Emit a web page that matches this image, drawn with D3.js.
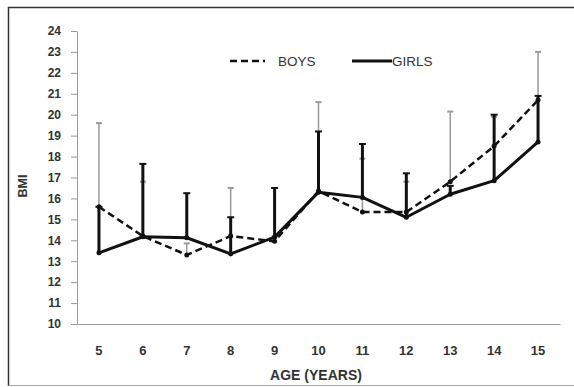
<!DOCTYPE html>
<html>
<head>
<meta charset="utf-8">
<script src="https://cdn.jsdelivr.net/npm/d3@7"></script>
<style>
  body { margin: 0; background: #fff; }
  svg { display: block; font-family: "Liberation Sans", Arial, sans-serif; }
  .tick text { fill: #333; font-weight: bold; }
</style>
</head>
<body>
<svg id="chart" width="574" height="387"></svg>
<script>
const ages = [5, 6, 7, 8, 9, 10, 11, 12, 13, 14, 15]
const boysMean = [15.6, 14.2, 13.3, 14.2, 13.95, 16.35, 15.35, 15.35, 16.8, 18.5, 20.7]
const boysUpper = [19.6, 16.8, 13.85, 16.5, 14.2, 20.6, 17.9, 16.8, 20.15, 19.9, 23.0]
const girlsMean = [13.4, 14.17, 14.12, 13.35, 14.15, 16.3, 16.05, 15.1, 16.2, 16.85, 18.7]
const girlsUpper = [15.6, 17.65, 16.25, 15.1, 16.5, 19.2, 18.6, 17.2, 16.6, 20.0, 20.9]
const yTicks = d3.range(10, 25)

const MARGIN = { top: 31, right: 14, bottom: 63, left: 77 }
const width = 574, height = 387

const svg = d3.select('#chart')

// outer frame (top + left dark, bottom light, no right edge)
svg.append('path')
    .attr('d', `M${width},7.5 H8.5 V386`)
    .attr('fill', 'none')
    .attr('stroke', '#333')
    .attr('stroke-width', 1.5)
svg.append('line')
    .attr('x1', 8.5).attr('x2', width).attr('y1', 385.5).attr('y2', 385.5)
    .attr('stroke', '#aaa')
    .attr('stroke-width', 1)

const xScale = d3.scaleBand()
    .domain(ages)
    .range([MARGIN.left, width - MARGIN.right])
const yScale = d3.scaleLinear()
    .domain([10, 24])
    .range([height - MARGIN.bottom, MARGIN.top])

const cx = d => xScale(d) + xScale.bandwidth() / 2

// y axis
const yAxis = svg.append('g')
    .attr('transform', `translate(${MARGIN.left},0)`)
    .call(d3.axisLeft(yScale).tickValues(yTicks).tickSize(6).tickPadding(10).tickSizeOuter(0))
yAxis.selectAll('line, path').attr('stroke', '#999')
yAxis.selectAll('text').attr('font-size', 12)

// x axis
const xAxis = svg.append('g')
    .attr('transform', `translate(0,${yScale(10)})`)
    .call(d3.axisBottom(xScale).tickSize(0).tickPadding(22).tickSizeOuter(0))
xAxis.select('.domain').attr('stroke', '#999')
xAxis.selectAll('text').attr('font-size', 13)

// axis titles
svg.append('text')
    .attr('x', 316).attr('y', 380)
    .attr('text-anchor', 'middle')
    .attr('font-size', 14)
    .attr('font-weight', 'bold')
    .attr('fill', '#333')
    .text('AGE (YEARS)')

svg.append('text')
    .attr('transform', 'translate(27,186) rotate(-90)')
    .attr('text-anchor', 'middle')
    .attr('font-size', 12.5)
    .attr('font-weight', 'bold')
    .attr('fill', '#333')
    .text('BMI')

// error bars: boys (grey, thin) then girls (black, thick)
function errorBars(mean, upper, color, sw, capW) {
    const g = svg.append('g')
    ages.forEach((a, i) => {
        g.append('line')
            .attr('x1', cx(a)).attr('x2', cx(a))
            .attr('y1', yScale(mean[i])).attr('y2', yScale(upper[i]))
            .attr('stroke', color).attr('stroke-width', sw)
        g.append('line')
            .attr('x1', cx(a) - capW / 2).attr('x2', cx(a) + capW / 2)
            .attr('y1', yScale(upper[i])).attr('y2', yScale(upper[i]))
            .attr('stroke', color).attr('stroke-width', 2)
    })
}
errorBars(boysMean, boysUpper, '#9a9a9a', 1.5, 6)
errorBars(girlsMean, girlsUpper, '#111', 3, 7)

const lineGen = d3.line()
    .x((d, i) => cx(ages[i]))
    .y(d => yScale(d))

svg.append('path')
    .datum(girlsMean)
    .attr('d', lineGen)
    .attr('fill', 'none')
    .attr('stroke', '#111')
    .attr('stroke-width', 3)
    .attr('stroke-linejoin', 'round')

svg.append('path')
    .datum(boysMean)
    .attr('d', lineGen)
    .attr('fill', 'none')
    .attr('stroke', '#111')
    .attr('stroke-width', 2.5)
    .attr('stroke-dasharray', '7,4')

svg.append('g').selectAll('circle')
    .data(boysMean.concat(girlsMean))
    .join('circle')
    .attr('cx', (d, i) => cx(ages[i % ages.length]))
    .attr('cy', d => yScale(d))
    .attr('r', 2.5)
    .attr('fill', '#111')

// legend
const legend = svg.append('g').attr('class', 'legend')
legend.append('line')
    .attr('x1', 230).attr('x2', 265).attr('y1', 61).attr('y2', 61)
    .attr('stroke', '#111').attr('stroke-width', 2.5).attr('stroke-dasharray', '7,4')
legend.append('text')
    .attr('x', 278).attr('y', 66)
    .attr('font-size', 13.5).attr('fill', '#333')
    .text('BOYS')
legend.append('line')
    .attr('x1', 352).attr('x2', 392).attr('y1', 61).attr('y2', 61)
    .attr('stroke', '#111').attr('stroke-width', 3)
legend.append('text')
    .attr('x', 392).attr('y', 66)
    .attr('font-size', 13.5).attr('fill', '#333')
    .text('GIRLS')
</script>
</body>
</html>
